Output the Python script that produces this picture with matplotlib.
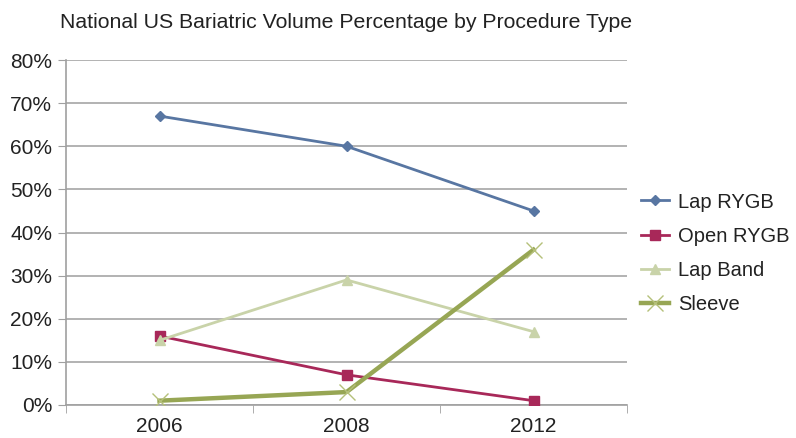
import matplotlib.pyplot as plt
from matplotlib.ticker import FuncFormatter

# data
years = ['2006', '2008', '2012']
lap_rygb = [67, 60, 45]
open_rygb = [16, 7, 1]
lap_band = [15, 29, 17]
sleeve = [1, 3, 36]

plt.rcParams['font.family'] = ['Liberation Sans', 'DejaVu Sans']

fig = plt.figure(figsize=(7.96, 4.38), dpi=100)
ax = fig.add_axes([66 / 796, 1 - 405 / 438, (627 - 66) / 796, (405 - 60) / 438])

x = range(len(years))
ax.plot(x, lap_rygb, color='#5876A2', lw=2, marker='D', ms=5, label='Lap RYGB', zorder=3)
ax.plot(x, open_rygb, color='#A82859', lw=2, marker='s', ms=7, label='Open RYGB', zorder=3)
ax.plot(x, lap_band, color='#C9D3A9', lw=2, marker='^', ms=7, label='Lap Band', zorder=3)
ax.plot(x, sleeve, color='#97A654', lw=3.2, marker='x', ms=12, mew=1,
        markeredgecolor='#B5C07A', label='Sleeve', zorder=4)

ax.set_xlim(-0.5, 2.5)
ax.set_ylim(0, 80)
ax.set_yticks(range(0, 81, 10))
ax.yaxis.set_major_formatter(FuncFormatter(lambda v, p: f'{int(v)}%'))
ax.set_xticks(list(x))
ax.set_xticklabels(years)
ax.set_xticks([-0.5, 0.5, 1.5, 2.5], minor=True)
ax.tick_params(axis='x', which='major', length=0, pad=9, labelsize=15, labelcolor='#222222')
ax.tick_params(axis='x', which='minor', length=6, color='#A0A0A0', direction='out')
ax.tick_params(axis='y', length=6, color='#A0A0A0', pad=4, labelsize=15, labelcolor='#222222')

ax.grid(axis='y', color='#A6A6A6', lw=1.2)
ax.set_axisbelow(True)
for s in ['top', 'right']:
    ax.spines[s].set_visible(False)
for s in ['left', 'bottom']:
    ax.spines[s].set_color('#A0A0A0')
    ax.spines[s].set_linewidth(1.2)

fig.text(60 / 796, 1 - 22 / 438, 'National US Bariatric Volume Percentage by Procedure Type',
         fontsize=15.3, va='center', ha='left', color='#222222')

leg = ax.legend(loc='center left', bbox_to_anchor=(1.0, 0.44), frameon=False, fontsize=14.5,
                handlelength=1.4, labelspacing=0.75, handletextpad=0.45, borderaxespad=0.3)
for t in leg.get_texts():
    t.set_color('#222222')

fig.savefig('out.png', dpi=100)
